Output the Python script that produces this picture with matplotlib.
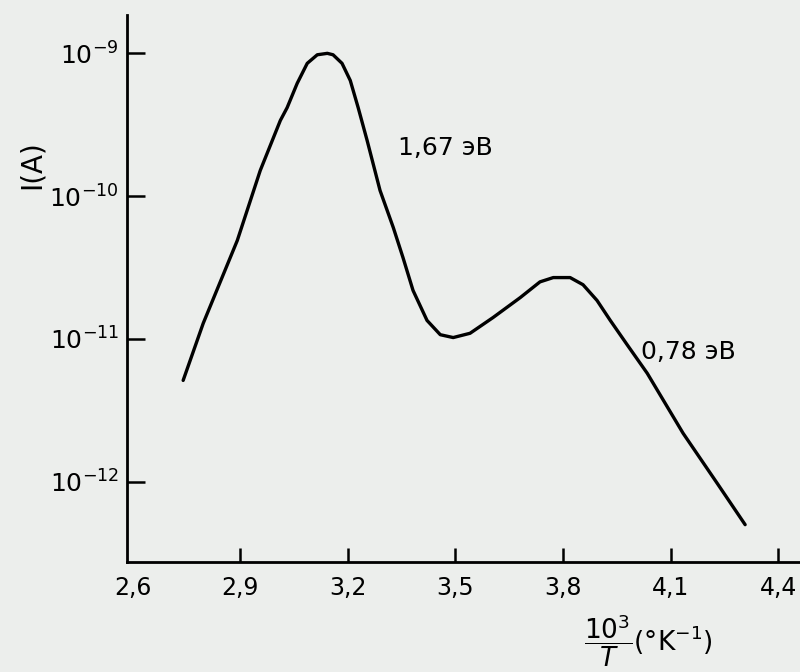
#%% imports
from matplotlib import pyplot as plt
import numpy as np

#%% data
# x = 10^3/T (1/K), log_I = log10 of current in A
x_vals = [2.741, 2.797, 2.892, 2.956, 3.012, 3.031, 3.059, 3.087, 3.115, 3.143,
          3.159, 3.184, 3.207, 3.229, 3.254, 3.290, 3.327, 3.354, 3.382, 3.421,
          3.458, 3.494, 3.541, 3.605, 3.681, 3.736, 3.773, 3.820, 3.856, 3.895,
          3.932, 3.979, 4.035, 4.135, 4.230, 4.308]
log_I = [-11.29, -10.89, -10.31, -9.82, -9.47, -9.38, -9.21, -9.07, -9.01, -9.00,
         -9.01, -9.07, -9.19, -9.38, -9.61, -9.96, -10.22, -10.43, -10.66, -10.87,
         -10.97, -10.99, -10.96, -10.85, -10.71, -10.60, -10.57, -10.57, -10.62, -10.73,
         -10.87, -11.04, -11.24, -11.66, -12.01, -12.30]

x_ticks = [2.6, 2.9, 3.2, 3.5, 3.8, 4.1, 4.4]
x_tick_labels = ["2,6", "2,9", "3,2", "3,5", "3,8", "4,1", "4,4"]
y_ticks = [1e-12, 1e-11, 1e-10, 1e-9]
y_tick_labels = [r"$10^{-12}$", r"$10^{-11}$", r"$10^{-10}$", r"$10^{-9}$"]

#%% plot
bg = "#eceeec"
fig = plt.figure(figsize=(8, 6.72), dpi=100, facecolor=bg)
ax = fig.add_axes([0.159, 0.164, 0.841, 0.814], facecolor=bg)

I = 10 ** np.array(log_I)
ax.plot(x_vals, I, color="black", lw=2.4, solid_capstyle="round", solid_joinstyle="round")

ax.set_yscale("log")
ax.set_xlim(2.585, 4.461)
ax.set_ylim(10 ** -12.56, 10 ** -8.73)

ax.set_xticks(x_ticks)
ax.set_xticklabels(x_tick_labels, fontsize=17)
ax.set_yticks(y_ticks)
ax.set_yticklabels(y_tick_labels, fontsize=18)
ax.yaxis.set_minor_locator(plt.NullLocator())
ax.tick_params(axis="x", direction="in", length=10, width=1.8, pad=10)
ax.tick_params(axis="y", direction="in", length=13, width=1.8, pad=6)
ax.xaxis.get_major_ticks()[0].tick1line.set_visible(False)

for side in ["top", "right"]:
    ax.spines[side].set_visible(False)
for side in ["left", "bottom"]:
    ax.spines[side].set_linewidth(2)

# axis labels
fig.text(0.04, 0.755, "I(A)", rotation=90, fontsize=20, ha="center", va="center")
fig.text(0.81, 0.047, r"$\dfrac{10^3}{T}$(°K$^{-1}$)", fontsize=19, ha="center", va="center")

# activation energies
ax.text(3.34, 10 ** -9.66, "1,67 эВ", fontsize=18, ha="left", va="center")
ax.text(4.018, 10 ** -11.09, "0,78 эВ", fontsize=18, ha="left", va="center")

plt.savefig("out.png", dpi=100, facecolor=bg)
